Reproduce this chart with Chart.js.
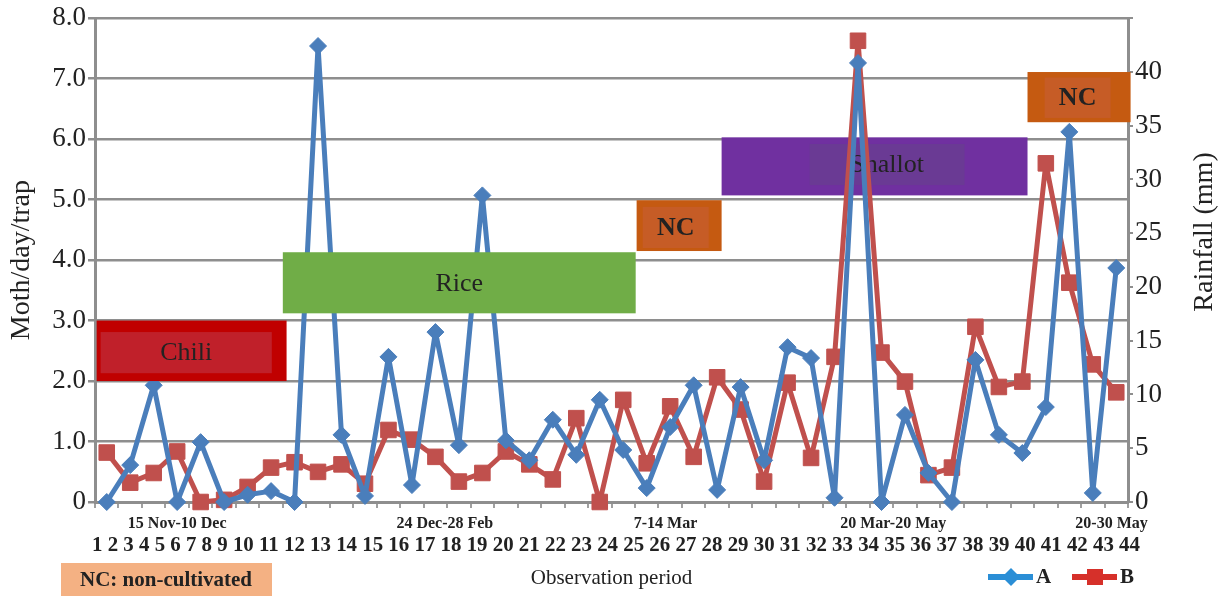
<!DOCTYPE html>
<html>
<head>
<meta charset="utf-8">
<script src="https://cdn.jsdelivr.net/npm/chart.js@4.4.1/dist/chart.umd.min.js"></script>
<style>
  html, body { margin: 0; padding: 0; background: #fff; }
</style>
</head>
<body>
<canvas id="chart" width="1226" height="596"></canvas>
<script>
// observation numbers (also printed as the number row under the axis)
const observations = ['1', '2', '3', '4', '5', '6', '7', '8', '9', '10', '11',
  '12', '13', '14', '15', '16', '17', '18', '19', '20', '21', '22', '23', '24',
  '25', '26', '27', '28', '29', '30', '31', '32', '33', '34', '35', '36', '37',
  '38', '39', '40', '41', '42', '43', '44'];

// moth/day/trap (left axis)
const seriesA = [0, 0.61, 1.93, 0, 0.99, 0, 0.12, 0.18, 0, 7.54, 1.11, 0.1,
  2.4, 0.28, 2.81, 0.94, 5.07, 1.02, 0.69, 1.36, 0.78, 1.69, 0.86, 0.23, 1.24,
  1.93, 0.2, 1.9, 0.69, 2.56, 2.38, 0.07, 7.26, 0, 1.44, 0.48, 0, 2.35, 1.11,
  0.81, 1.57, 6.12, 0.15, 3.87];

// rainfall in mm (right axis)
const seriesB = [4.6, 1.8, 2.7, 4.7, 0, 0.2, 1.4, 3.2, 3.7, 2.8, 3.5, 1.7,
  6.7, 5.8, 4.2, 1.9, 2.7, 4.7, 3.5, 2.1, 7.8, 0, 9.5, 3.6, 8.9, 4.2, 11.6,
  8.6, 1.9, 11.1, 4.1, 13.5, 42.9, 13.9, 11.2, 2.5, 3.2, 16.3, 10.7, 11.2,
  31.5, 20.4, 12.8, 10.2];

const periodLabels = ['15 Nov-10 Dec', '24 Dec-28 Feb', '7-14 Mar', '20 Mar-20 May', '20-30 May'];
const cropLabels = ['Chili', 'Rice', 'NC', 'Shallot', 'NC'];

// where the period captions sit, in category units
const periodAt = [3, 14.4, 23.8, 33.5, 42.8];

// crop boxes, in category units (x) and left axis units (y)
const bands = [
  { x: [-0.43, 7.66], y: [2.0, 3.0], inner: [-0.26, 7.03, 2.13, 2.81], fill: '#c00000', innerFill: '#c0202a', bold: false, over: true },
  { x: [7.5, 22.53], y: [3.12, 4.13], inner: null, fill: '#70ad47', bold: false, over: true },
  { x: [22.57, 26.19], y: [4.15, 4.99], inner: [22.83, 25.64, 4.2, 4.88], fill: '#c55a11', innerFill: '#c65c26', bold: true, over: true },
  { x: [26.19, 39.22], y: [5.07, 6.03], inner: [29.94, 36.54, 5.24, 5.92], fill: '#7030a0', innerFill: '#6a3a94', bold: false, over: false },
  { x: [39.22, 43.61], y: [6.28, 7.11], inner: [39.95, 42.76, 6.35, 7.02], fill: '#c55a11', innerFill: '#c65c26', bold: true, over: true },
];

const GRID = '#8e8e8e';
const INK = '#222';
const SERIF = '"Liberation Serif", "Times New Roman", serif';
Chart.defaults.font.family = SERIF;
Chart.defaults.color = INK;

function drawBands(chart, over) {
  const { ctx, scales: { x, y } } = chart;
  bands.forEach((b, i) => {
    if (b.over !== over) return;
    const l = x.getPixelForValue(b.x[0]), r = x.getPixelForValue(b.x[1]);
    const t = y.getPixelForValue(b.y[1]), btm = y.getPixelForValue(b.y[0]);
    ctx.save();
    ctx.fillStyle = b.fill;
    ctx.fillRect(l, t, r - l, btm - t);
    let cx = (l + r) / 2, cy = (t + btm) / 2;
    if (b.inner) {
      const il = x.getPixelForValue(b.inner[0]), ir = x.getPixelForValue(b.inner[1]);
      const it = y.getPixelForValue(b.inner[3]), ib = y.getPixelForValue(b.inner[2]);
      ctx.fillStyle = b.innerFill;
      ctx.fillRect(il, it, ir - il, ib - it);
      cx = (il + ir) / 2; cy = (it + ib) / 2;
    }
    ctx.fillStyle = INK;
    ctx.font = (b.bold ? 'bold ' : '') + '26px ' + SERIF;
    ctx.textAlign = 'center';
    ctx.textBaseline = 'middle';
    ctx.fillText(cropLabels[i], cx, cy + 1);
    ctx.restore();
  });
}

const overlay = {
  id: 'overlay',
  beforeDatasetsDraw(chart) { drawBands(chart, false); },
  afterDatasetsDraw(chart) { drawBands(chart, true); },
  afterDraw(chart) {
    const { ctx, chartArea: area, scales: { x } } = chart;
    ctx.save();
    ctx.fillStyle = INK;
    ctx.textBaseline = 'middle';

    // period captions
    ctx.font = 'bold 16px ' + SERIF;
    ctx.textAlign = 'center';
    periodLabels.forEach((p, i) => ctx.fillText(p, x.getPixelForValue(periodAt[i]), area.bottom + 22));

    // number row, stretched across the axis
    ctx.font = 'bold 21px ' + SERIF;
    ctx.textAlign = 'left';
    const row = observations.join(' ');
    const w = ctx.measureText(row).width;
    const x0 = area.left - 3, x1 = area.right + 12;
    ctx.save();
    ctx.translate(x0, area.bottom + 44);
    ctx.scale((x1 - x0) / w, 1);
    ctx.fillText(row, 0, 0);
    ctx.restore();

    // right axis title, reading bottom to top
    ctx.save();
    ctx.translate(1205, 232);
    ctx.rotate(-Math.PI / 2);
    ctx.font = '28px ' + SERIF;
    ctx.textAlign = 'center';
    ctx.fillText('Rainfall (mm)', 0, 0);
    ctx.restore();

    // NC key
    ctx.fillStyle = '#f4b183';
    ctx.fillRect(61, 563, 211, 40);
    ctx.fillStyle = INK;
    ctx.font = 'bold 21px ' + SERIF;
    ctx.textAlign = 'center';
    ctx.fillText('NC: non-cultivated', 166, 581);

    // legend
    const legendColors = ['#2a8ed6', '#d6302a'];
    const starts = [988, 1072];
    chart.data.datasets.forEach((ds, i) => {
      const sx = starts[i], ly = 577;
      ctx.strokeStyle = legendColors[i];
      ctx.fillStyle = legendColors[i];
      ctx.lineWidth = 6;
      ctx.beginPath();
      ctx.moveTo(sx, ly);
      ctx.lineTo(sx + 45, ly);
      ctx.stroke();
      const mx = sx + 23;
      ctx.beginPath();
      if (ds.pointStyle === 'rectRot') {
        ctx.moveTo(mx, ly - 9); ctx.lineTo(mx + 9, ly); ctx.lineTo(mx, ly + 9); ctx.lineTo(mx - 9, ly);
      } else {
        ctx.rect(mx - 8, ly - 8, 16, 16);
      }
      ctx.closePath();
      ctx.fill();
      ctx.fillStyle = INK;
      ctx.font = 'bold 21px ' + SERIF;
      ctx.textAlign = 'left';
      ctx.fillText(ds.label, sx + 48, ly + 1);
    });
    ctx.restore();
  }
};

new Chart(document.getElementById('chart'), {
  type: 'line',
  data: {
    labels: observations,
    datasets: [
      {
        label: 'A',
        data: seriesA,
        yAxisID: 'y',
        borderColor: '#4a7ebb',
        backgroundColor: '#4a7ebb',
        borderWidth: 5,
        borderJoinStyle: 'round',
        borderCapStyle: 'round',
        pointStyle: 'rectRot',
        pointRadius: 8.5,
        pointBorderWidth: 1,
        tension: 0,
        clip: false,
      },
      {
        label: 'B',
        data: seriesB,
        yAxisID: 'y1',
        borderColor: '#c0504d',
        backgroundColor: '#c0504d',
        borderWidth: 5,
        borderJoinStyle: 'round',
        borderCapStyle: 'round',
        pointStyle: 'rect',
        pointRadius: 11,
        pointBorderWidth: 1,
        tension: 0,
        clip: false,
      },
    ],
  },
  options: {
    responsive: false,
    animation: false,
    devicePixelRatio: 1,
    layout: { padding: { top: 18, left: 0, right: 0, bottom: 0 } },
    plugins: { legend: { display: false }, tooltip: { enabled: false } },
    scales: {
      x: {
        offset: true,
        grid: { display: true, drawOnChartArea: false, offset: true, tickLength: 6, color: '#a0a0a0', lineWidth: 2 },
        border: { color: GRID, width: 3 },
        ticks: { display: false, autoSkip: false },
        title: { display: true, text: 'Observation period', font: { size: 21 }, padding: { top: 0, bottom: 5 } },
        afterFit: (s) => { s.height = 94; },
      },
      y: {
        position: 'left',
        min: 0,
        max: 8,
        ticks: { stepSize: 1, padding: 2, font: { size: 27 }, callback: (v) => (v === 0 ? '0' : v.toFixed(1)) },
        grid: { color: GRID, lineWidth: 2.5, tickLength: 7 },
        border: { color: GRID, width: 3 },
        title: { display: true, text: 'Moth/day/trap', font: { size: 28 }, padding: { top: 5, bottom: 0 } },
        afterFit: (s) => { s.width = 95; },
      },
      y1: {
        position: 'right',
        min: 0,
        max: 45,
        ticks: { stepSize: 5, padding: 2, font: { size: 27 }, callback: (v) => (v === 45 ? '' : v) },
        grid: { drawOnChartArea: false, color: GRID, lineWidth: 2, tickLength: 5 },
        border: { color: GRID, width: 3 },
        afterFit: (s) => { s.width = 98; },
      },
    },
  },
  plugins: [overlay],
});
</script>
</body>
</html>
